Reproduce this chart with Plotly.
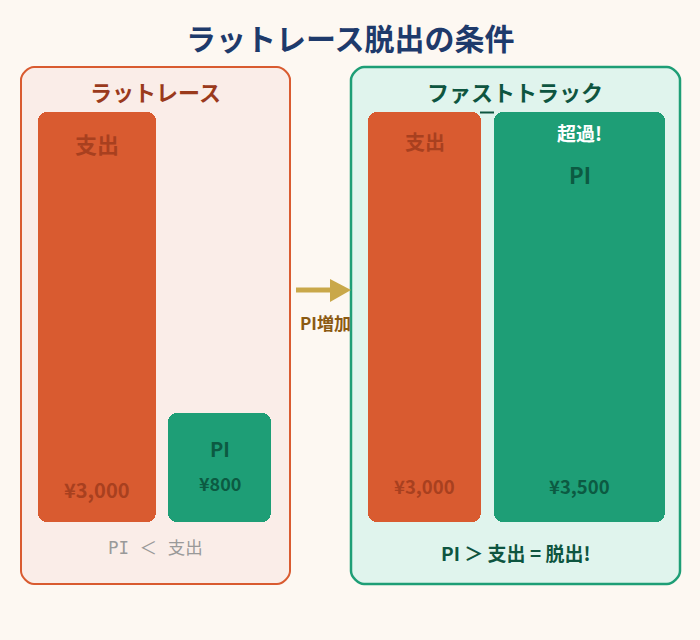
import numpy as np
import plotly.graph_objects as go

# ---------------- data ----------------
panel_titles = ["ラットレース", "ファストトラック"]
bar_names = ["支出", "PI", "支出", "PI"]
bar_values = [3000, 800, 3000, 3500]
value_labels = ["¥3,000", "¥800", "¥3,000", "¥3,500"]
height_cap = 3000  # bars are drawn no taller than the expense bar
title_text = "ラットレース脱出の条件"
arrow_label = "PI増加"
left_note = "PI ＜ 支出"
right_note = "PI ＞ 支出 = 脱出!"
exceed_label = "超過!"

# ---------------- styles / layout ----------------
W, H = 700, 640
BG = "#fdf8f2"
ORANGE = "#d95b30"
GREEN = "#1e9e76"
bar_centers = [97, 219.5, 424.5, 579.5]      # pixel x (x axis spans 0..700)
bar_widths = [118, 103, 113, 171]
bar_colors = [ORANGE, GREEN, ORANGE, GREEN]
name_colors = ["#a8401f", "#0c5a42", "#a8401f", "#0c5a42"]
name_sizes = [22, 20, 20, 22]
name_shifts = [-31, -36, -29, -62]
val_colors = ["#a8401f", "#0c5a42", "#a8401f", "#0c5a42"]
val_sizes = [20, 18, 18.5, 18.5]
val_shifts = [33, 39, 36, 36]
FONT = "Noto Sans CJK JP"

bar_bottom_px, bar_top_px = 522, 112


def py(p):
    return 1 - p / H


def px(p):
    return p / W


heights = np.minimum(np.array(bar_values, dtype=float), height_cap)

fig = go.Figure()
# each bar: an upper half rounded at its top, a lower half rounded at its bottom,
# and a square-cornered middle piece joining them
for i in range(len(bar_names)):
    h = heights[i]
    pieces = [
        (h / 2, h / 2, 9),      # base, length, corner radius
        (h / 2, -h / 2, 9),
        (h * 0.2, h * 0.6, 0),
    ]
    for base, length, rad in pieces:
        fig.add_trace(go.Bar(
            x=[bar_centers[i]], y=[length], base=[base],
            width=[bar_widths[i]],
            marker=dict(color=bar_colors[i], line=dict(width=0), cornerradius=rad),
            hoverinfo="skip", showlegend=False,
        ))

annotations = []
for i in range(len(bar_names)):
    annotations.append(dict(
        x=bar_centers[i], y=heights[i], xref="x", yref="y", xanchor="center",
        text=f"<b>{bar_names[i]}</b>", showarrow=False,
        yshift=name_shifts[i], yanchor="middle",
        font=dict(family=FONT, size=name_sizes[i], color=name_colors[i])))
    annotations.append(dict(
        x=bar_centers[i], y=0, xref="x", yref="y", xanchor="center",
        text=f"<b>{value_labels[i]}</b>", showarrow=False,
        yshift=val_shifts[i], yanchor="middle",
        font=dict(family=FONT, size=val_sizes[i], color=val_colors[i])))
annotations.append(dict(
    x=bar_centers[3], y=heights[3], xref="x", yref="y", xanchor="center",
    text=f"<b>{exceed_label}</b>", showarrow=False, yshift=-20, yanchor="middle",
    font=dict(family=FONT, size=19, color="#ffffff")))

# titles and notes
annotations += [
    dict(x=0.5, y=py(37), text=f"<b>{title_text}</b>",
         font=dict(family=FONT, size=30, color="#1e3a6b")),
    dict(x=px(155), y=py(91), text=f"<b>{panel_titles[0]}</b>",
         font=dict(family=FONT, size=22, color="#9a3a1c")),
    dict(x=px(515), y=py(91), text=f"<b>{panel_titles[1]}</b>",
         font=dict(family=FONT, size=22, color="#0e5540")),
    dict(x=px(155), y=py(548), text=left_note,
         font=dict(family="DejaVu Sans Mono, Noto Sans CJK JP", size=17.5, color="#999999")),
    dict(x=px(515), y=py(552), text=f"<b>{right_note}</b>",
         font=dict(family=FONT, size=19, color="#0e5540")),
    dict(x=px(325), y=py(322), text=f"<b>{arrow_label}</b>",
         font=dict(family=FONT, size=17, color="#8b5a12")),
]
for a in annotations[-6:]:
    a.update(xref="paper", yref="paper", xanchor="center", yanchor="middle", showarrow=False)


def rrect(x0, y0, x1, y1, r):
    # pixel rounded rect -> paper path
    def P(x, y):
        return f"{px(x):.5f},{py(y):.5f}"
    k = 0.45 * r
    return (f"M {P(x0 + r, y0)} L {P(x1 - r, y0)} "
            f"C {P(x1 - r + k, y0)} {P(x1, y0 + r - k)} {P(x1, y0 + r)} "
            f"L {P(x1, y1 - r)} "
            f"C {P(x1, y1 - r + k)} {P(x1 - r + k, y1)} {P(x1 - r, y1)} "
            f"L {P(x0 + r, y1)} "
            f"C {P(x0 + r - k, y1)} {P(x0, y1 - r + k)} {P(x0, y1 - r)} "
            f"L {P(x0, y0 + r)} "
            f"C {P(x0, y0 + r - k)} {P(x0 + r - k, y0)} {P(x0 + r, y0)} Z")


shapes = [
    dict(type="path", path=rrect(21, 67, 290, 584, 13), xref="paper", yref="paper",
         fillcolor="#faede8", line=dict(color=ORANGE, width=2), layer="below"),
    dict(type="path", path=rrect(351, 67, 680, 584, 13), xref="paper", yref="paper",
         fillcolor="#e0f4ed", line=dict(color=GREEN, width=2.5), layer="below"),
    # arrow
    dict(type="line", x0=px(296), x1=px(332), y0=py(290), y1=py(290), xref="paper", yref="paper",
         line=dict(color="#c9a84a", width=5)),
    dict(type="path",
         path=f"M {px(330)},{py(279)} L {px(351)},{py(290)} L {px(330)},{py(302)} Z",
         xref="paper", yref="paper", fillcolor="#c9a84a", line=dict(width=0)),
    # small dark mark between the fast-track bars
    dict(type="line", x0=px(480), x1=px(494), y0=py(112.5), y1=py(112.5), xref="paper", yref="paper",
         line=dict(color="#0e5540", width=2)),
]

fig.update_layout(
    width=W, height=H, margin=dict(l=0, r=0, t=0, b=0),
    paper_bgcolor=BG, plot_bgcolor="rgba(0,0,0,0)",
    barmode="overlay", bargap=0,
    xaxis=dict(range=[0, W], domain=[0, 1], visible=False, fixedrange=True),
    yaxis=dict(range=[0, height_cap], domain=[py(bar_bottom_px), py(bar_top_px)],
               visible=False, fixedrange=True),
    annotations=annotations, shapes=shapes,
)

fig.write_html("out.html")
